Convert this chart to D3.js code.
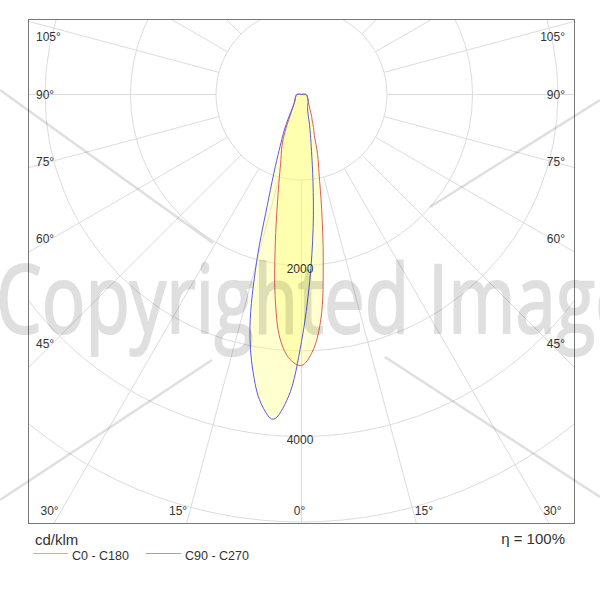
<!DOCTYPE html>
<html>
<head>
<meta charset="utf-8">
<title>LDC polar</title>
<script src="https://d3js.org/d3.v7.min.js"></script>
<style>
  body { margin: 0; background: #fff; }
  text { font-family: "Liberation Sans", Arial, sans-serif; fill: #333; }
</style>
</head>
<body>
<svg width="600" height="600"></svg>
<script>
// gamma angles (deg from nadir) and intensities in cd/klm
var gammas = [0, 2.5, 5, 7.5, 10, 12.5, 15, 17.5, 20, 22.5, 25, 27.5, 30, 35, 40, 45, 50, 55, 60, 65, 70, 75, 80, 85, 90, 95, 100, 110, 120];
var c0   = [3170, 3003, 2624, 1950, 1355, 950, 730, 500, 410, 325, 280, 232, 195, 155, 130, 115, 100, 90, 85, 78, 72, 68, 64, 60, 55, 38, 22, 8, 0];
var c180 = [3170, 3100, 2870, 2370, 1765, 1300, 1000, 800, 680, 560, 420, 310, 240, 168, 132, 110, 100, 90, 85, 78, 72, 68, 64, 60, 55, 38, 22, 8, 0];
var c90  = [2890, 2190, 1564, 1030, 675, 480, 360, 265, 215, 185, 168, 155, 145, 130, 120, 110, 100, 90, 85, 78, 72, 68, 64, 60, 55, 38, 22, 8, 0];
var c270 = [2890, 3542, 3813, 3640, 3278, 2785, 2030, 1280, 894, 650, 500, 380, 280, 175, 135, 112, 100, 90, 85, 78, 72, 68, 64, 60, 55, 38, 22, 8, 0];

var rings = [1000, 2000, 3000, 4000, 5000, 6000];
var ringLabels = [2000, 4000];
var angleTicks = [0, 15, 30, 45, 60, 75, 90, 105];
var seriesNames = ["C0 - C180", "C90 - C270"];
var seriesColors = ["#e05a5a", "#5a5ae0"];
var unitLabel = "cd/klm";
var effLabel = "\u03b7 = 100%";

var svg = d3.select("svg");
var cx = 301.5, cy = 94.5;
var frame = {x: 28.5, y: 19.5, w: 546, h: 504};
var r = d3.scaleLinear().domain([0, 1000]).range([0, 85.5]);
var rad = Math.PI / 180;

svg.append("clipPath").attr("id", "clip")
  .append("rect").attr("x", frame.x).attr("y", frame.y).attr("width", frame.w).attr("height", frame.h);

var plot = svg.append("g").attr("clip-path", "url(#clip)");
var g = plot.append("g").attr("transform", "translate(" + cx + "," + cy + ")");

// grid rings
g.selectAll("circle.ring").data(rings).enter().append("circle")
  .attr("r", function(d) { return r(d); })
  .attr("fill", "none").attr("stroke", "#dcdcdc").attr("stroke-width", 1);

// radial lines every 15 deg, starting at first ring
var spokes = d3.range(0, 360, 15);
g.selectAll("line.spoke").data(spokes).enter().append("line")
  .attr("x1", function(d) { return d3.pointRadial(Math.PI - d * rad, r(1000))[0]; })
  .attr("y1", function(d) { return d3.pointRadial(Math.PI - d * rad, r(1000))[1]; })
  .attr("x2", function(d) { return d3.pointRadial(Math.PI - d * rad, r(8000))[0]; })
  .attr("y2", function(d) { return d3.pointRadial(Math.PI - d * rad, r(8000))[1]; })
  .attr("stroke", "#dcdcdc").attr("stroke-width", 1);

// lobes
function lobe(right, left) {
  var pts = [];
  for (var i = gammas.length - 1; i >= 0; i--) pts.push([Math.PI - gammas[i] * rad, r(right[i])]);
  for (var j = 1; j < gammas.length - 1; j++) pts.push([Math.PI + gammas[j] * rad, r(left[j])]);
  return pts;
}
var radial = d3.lineRadial()
  .angle(function(d) { return d[0]; })
  .radius(function(d) { return d[1]; })
  .curve(d3.curveCatmullRomClosed.alpha(0.5));

var lobes = [lobe(c0, c180), lobe(c90, c270)];
g.selectAll("path.fill").data(lobes).enter().append("path")
  .attr("d", radial)
  .attr("fill", "#ffff70").attr("fill-opacity", 0.33).attr("stroke", "none");
g.selectAll("path.line").data(lobes).enter().append("path")
  .attr("d", radial)
  .attr("fill", "none")
  .attr("stroke", function(d, i) { return seriesColors[i]; })
  .attr("stroke-width", 1);

// ring labels on the nadir axis
g.selectAll("text.rl").data(ringLabels).enter().append("text")
  .attr("x", -1.5).attr("y", function(d) { return r(d) + 7.5; })
  .attr("text-anchor", "middle").attr("font-size", 12)
  .text(function(d) { return d; });

// frame
svg.append("rect").attr("x", frame.x).attr("y", frame.y).attr("width", frame.w).attr("height", frame.h)
  .attr("fill", "none").attr("stroke", "#777").attr("stroke-width", 1);

// angle labels along the frame
var bottomY = 510, sideDx = 256.5;
angleTicks.forEach(function(t) {
  [-1, 1].forEach(function(s) {
    if (t === 0 && s === 1) return;
    var a = t * rad;
    var lab = svg.append("text").attr("font-size", 12).text(t + "\u00b0");
    var xb = Math.cos(a) > 0 ? cx + s * (bottomY - cy) * Math.tan(a) : null;
    if (xb !== null && xb > 45 && xb < 558) {
      if (t === 0) lab.attr("x", cx - 2).attr("text-anchor", "middle");
      else if (s < 0) lab.attr("x", xb - 3).attr("text-anchor", "end");
      else lab.attr("x", xb + 2).attr("text-anchor", "start");
      lab.attr("y", bottomY + 4.5);
    } else {
      var yi = cy + sideDx * Math.cos(a) / Math.sin(a);
      var yc = Math.max(36, yi - 0.03 * (yi - cy));
      lab.attr("x", s < 0 ? 36 : 565).attr("text-anchor", s < 0 ? "start" : "end")
         .attr("y", yc + 4.5);
    }
  });
});

// units and legend
svg.append("text").attr("x", 35).attr("y", 545).attr("font-size", 15).text(unitLabel);
svg.append("text").attr("x", 565).attr("y", 544).attr("font-size", 15).attr("text-anchor", "end").text(effLabel);

var legX = [33, 146];
var leg = svg.selectAll("g.leg").data(seriesNames).enter().append("g")
  .attr("transform", function(d, i) { return "translate(" + legX[i] + ",0)"; });
leg.append("line").attr("x1", 0).attr("x2", 35).attr("y1", 553.5).attr("y2", 553.5)
  .attr("stroke", function(d, i) { return seriesColors[i]; }).attr("stroke-opacity", 0.6);
leg.append("text").attr("x", 39).attr("y", 560).attr("font-size", 12.5).text(function(d) { return d; });

// watermark
var wm = svg.append("g").attr("pointer-events", "none").attr("opacity", 0.12);
[[0, 90, 213, 243], [600, 100, 430, 207], [0, 500, 212, 360], [385, 357, 600, 497]].forEach(function(l) {
  wm.append("line").attr("x1", l[0]).attr("y1", l[1]).attr("x2", l[2]).attr("y2", l[3])
    .attr("stroke", "#000").attr("stroke-width", 2.5);
});
wm.append("text").attr("x", -4).attr("y", 333)
  .attr("font-size", 96)
  .style("font-family", "'Open Sans', 'Noto Sans', sans-serif").style("fill", "#000")
  .attr("stroke", "#000").attr("stroke-width", 2.2).attr("stroke-linejoin", "round")
  .attr("textLength", 640).attr("lengthAdjust", "spacingAndGlyphs")
  .text("Copyrighted Image");
</script>
</body>
</html>
